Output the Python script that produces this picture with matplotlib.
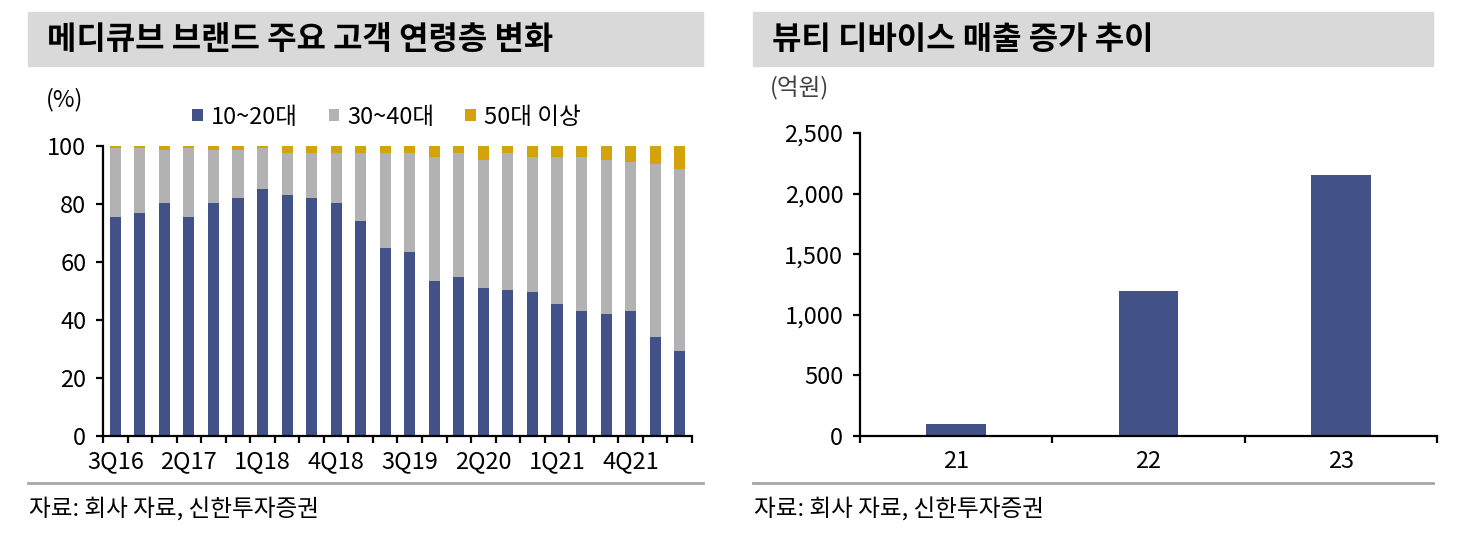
import numpy as np
import matplotlib.pyplot as plt
from matplotlib.patches import Rectangle
from matplotlib.lines import Line2D
from matplotlib.ticker import FuncFormatter

plt.rcParams["font.family"] = ["Noto Sans CJK KR", "DejaVu Sans"]

quarters = ["3Q16", "4Q16", "1Q17", "2Q17", "3Q17", "4Q17", "1Q18", "2Q18",
            "3Q18", "4Q18", "1Q19", "2Q19", "3Q19", "4Q19", "1Q20", "2Q20",
            "3Q20", "4Q20", "1Q21", "2Q21", "3Q21", "4Q21", "1Q22", "2Q22"]
teen_20s = [75.5, 77, 80.5, 75.5, 80.5, 82, 85.3, 83, 82, 80.5, 74, 65,
            63.5, 53.5, 55, 51, 50.2, 49.5, 45.5, 43, 42, 43, 34.3, 29.2]
over_50 = [0.6, 0.6, 1.4, 0.6, 1.4, 1.4, 0.6, 2.3, 2.3, 2.3, 2.3, 2.3,
           2.3, 3.8, 2.3, 4.7, 2.3, 3.8, 3.8, 3.8, 4.7, 5.5, 6.3, 7.9]
mid_30s_40s = [100 - a - c for a, c in zip(teen_20s, over_50)]

years = ["21", "22", "23"]
device_sales = [100, 1200, 2150]

navy = "#425187"
grey = "#b2b2b2"
gold = "#d4a20a"
FS = 17

W, H = 1465, 538
fig = plt.figure(figsize=(W / 100, H / 100), dpi=100)


def box(x0, y0, x1, y1):
    return [x0 / W, 1 - y1 / H, (x1 - x0) / W, (y1 - y0) / H]


def frame(x0, x1, title):
    fig.patches.append(Rectangle((x0 / W, 1 - 66 / H), (x1 - x0) / W, 54 / H,
                                 transform=fig.transFigure, color="#d9d9d9", zorder=0))
    fig.text((x0 + 19) / W, 1 - 40 / H, title, fontsize=23, fontweight="bold",
             va="center", ha="left")
    fig.lines.append(Line2D([x0 / W, x1 / W], [1 - 483 / H] * 2,
                            transform=fig.transFigure, color="#a6a6a6", lw=2))
    fig.text((x0 + 1) / W, 1 - 510 / H, "자료: 회사 자료, 신한투자증권",
             fontsize=FS, va="center", ha="left")


def style(ax):
    for s in ("top", "right"):
        ax.spines[s].set_visible(False)
    for s in ("left", "bottom"):
        ax.spines[s].set_linewidth(1.6)
    ax.tick_params(axis="y", direction="out", length=5, width=1.6, labelsize=FS, pad=7)
    ax.tick_params(axis="x", which="minor", direction="out", length=5, width=1.6)
    ax.tick_params(axis="x", which="major", length=0, labelsize=FS, pad=10)


# left chart
frame(28, 703, "메디큐브 브랜드 주요 고객 연령층 변화")
ax1 = fig.add_axes(box(103, 146, 692, 436))
x = np.arange(len(quarters))
ax1.bar(x, teen_20s, 0.45, color=navy, label="10~20대")
ax1.bar(x, mid_30s_40s, 0.45, bottom=teen_20s, color=grey, label="30~40대")
ax1.bar(x, over_50, 0.45, bottom=[a + b for a, b in zip(teen_20s, mid_30s_40s)],
        color=gold, label="50대 이상")
ax1.set_xlim(-0.5, len(quarters) - 0.5)
ax1.set_ylim(0, 100)
ax1.set_yticks(range(0, 101, 20))
ax1.set_xticks(x[::3])
ax1.set_xticklabels(quarters[::3])
ax1.set_xticks(np.arange(-0.5, len(quarters), 1), minor=True)
style(ax1)
fig.legend(*ax1.get_legend_handles_labels(), loc="center left",
           bbox_to_anchor=(192 / W, 1 - 117 / H), ncol=3, frameon=False,
           fontsize=FS, handlelength=0.45, handleheight=0.45, handletextpad=0.35,
           columnspacing=1.3, borderaxespad=0, borderpad=0)
fig.text(46 / W, 1 - 100 / H, "(%)", fontsize=FS, va="center", ha="left")

# right chart
frame(753, 1433, "뷰티 디바이스 매출 증가 추이")
ax2 = fig.add_axes(box(860, 133, 1437, 436))
xr = np.arange(len(years))
ax2.bar(xr, device_sales, 0.31, color=navy)
ax2.set_xlim(-0.5, len(years) - 0.5)
ax2.set_ylim(0, 2500)
ax2.set_yticks(range(0, 2501, 500))
ax2.yaxis.set_major_formatter(FuncFormatter(lambda v, p: f"{v:,.0f}"))
ax2.set_xticks(xr)
ax2.set_xticklabels(years)
ax2.set_xticks(np.arange(-0.5, len(years), 1), minor=True)
style(ax2)
fig.text(770 / W, 1 - 88 / H, "(억원)", fontsize=FS, va="center", ha="left",
         color="#404040")

fig.savefig("out.png", dpi=100)
